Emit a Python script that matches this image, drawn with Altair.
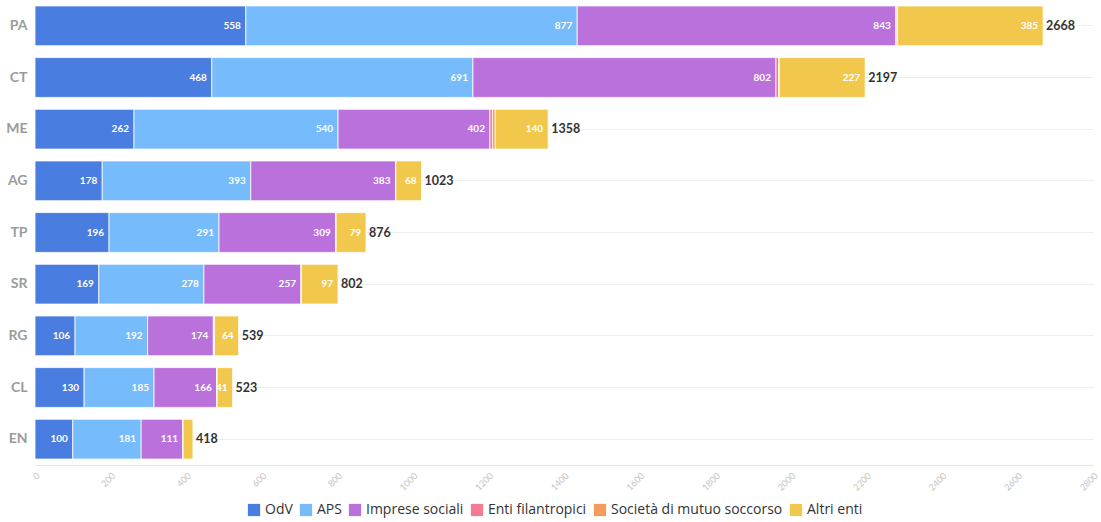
import altair as alt
import pandas as pd

# Enti del Terzo Settore per provincia e tipologia
provinces = ["PA", "CT", "ME", "AG", "TP", "SR", "RG", "CL", "EN"]
categories = ["OdV", "APS", "Imprese sociali", "Enti filantropici",
              "Società di mutuo soccorso", "Altri enti"]
colors = ["#4a7de0", "#76bbfb", "#bb71dc", "#f67a93", "#f59c5c", "#f2c84c"]

odv = [558, 468, 262, 178, 196, 169, 106, 130, 100]
aps = [877, 691, 540, 393, 291, 278, 192, 185, 181]
imprese_sociali = [843, 802, 402, 383, 309, 257, 174, 166, 111]
enti_filantropici = [3, 7, 7, 1, 0, 1, 2, 1, 0]
mutuo_soccorso = [2, 2, 7, 0, 1, 0, 1, 0, 0]
altri_enti = [385, 227, 140, 68, 79, 97, 64, 41, 26]

x_ticks = list(range(0, 2801, 200))

series = [odv, aps, imprese_sociali, enti_filantropici, mutuo_soccorso, altri_enti]
rows = []
for ci, (cat, vals) in enumerate(zip(categories, series)):
    for prov, v in zip(provinces, vals):
        rows.append({"provincia": prov, "tipologia": cat, "ord": ci, "valore": v})
df = pd.DataFrame(rows)

FONT = "Lato"
LEGEND_FONT = "Open Sans"

x_scale = alt.Scale(domain=[0, 2800], nice=False)
y_enc = alt.Y(
    "provincia:N",
    sort=provinces,
    scale=alt.Scale(paddingInner=0.23, paddingOuter=0.115),
    axis=alt.Axis(
        title=None, ticks=False, domain=False, grid=True, gridColor="#eeeeee",
        bandPosition=0.5, labelFontSize=14, labelFontWeight="bold",
        labelColor="#9b9b9b", labelPadding=8, labelFont=FONT,
    ),
)

base = alt.Chart(df).transform_stack(
    stack="valore",
    groupby=["provincia"],
    as_=["x0", "x1"],
    sort=[alt.SortField("ord", order="ascending")],
)

bars = base.mark_bar(stroke="white", strokeWidth=0.8).encode(
    x=alt.X(
        "x0:Q", scale=x_scale,
        axis=alt.Axis(
            title=None, values=x_ticks, format="d", labelAngle=-45, ticks=False,
            grid=False, domainColor="#e4e4e4", labelColor="#c4c4c4",
            labelFontSize=9, labelFont=FONT, labelPadding=6,
        ),
    ),
    x2="x1:Q",
    y=y_enc,
    color=alt.Color(
        "tipologia:N",
        scale=alt.Scale(domain=categories, range=colors),
        sort=categories,
        legend=alt.Legend(
            title=None, orient="none", legendX=212, legendY=503,
            direction="horizontal",
            symbolType="square", symbolSize=150, symbolStrokeWidth=0,
            labelFontSize=14, labelColor="#333333", labelFont=LEGEND_FONT,
            labelLimit=400, columnPadding=6, labelOffset=4,
        ),
    ),
)

seg_labels = base.transform_filter(alt.datum.valore >= 30).mark_text(
    align="right", baseline="middle", dx=-5, color="white",
    fontSize=10, fontWeight="bold", font=FONT,
).encode(
    x=alt.X("x1:Q", scale=x_scale),
    y=alt.Y("provincia:N", sort=provinces),
    text=alt.Text("valore:Q"),
)

totals = alt.Chart(df).transform_aggregate(
    totale="sum(valore)", groupby=["provincia"]
).mark_text(
    align="left", baseline="middle", dx=3, color="#333333",
    fontSize=12.5, fontWeight="bold", font=FONT,
).encode(
    x=alt.X("totale:Q", scale=x_scale),
    y=alt.Y("provincia:N", sort=provinces),
    text=alt.Text("totale:Q"),
)

chart = alt.layer(bars, seg_labels, totals).properties(
    width=1058, height=465,
    autosize=alt.AutoSizeParams(type="none"),
    padding={"left": 35, "top": 0, "right": 8, "bottom": 57},
).configure_view(stroke=None)

chart.save("out.html", embed_options={"renderer": "svg", "actions": False})
